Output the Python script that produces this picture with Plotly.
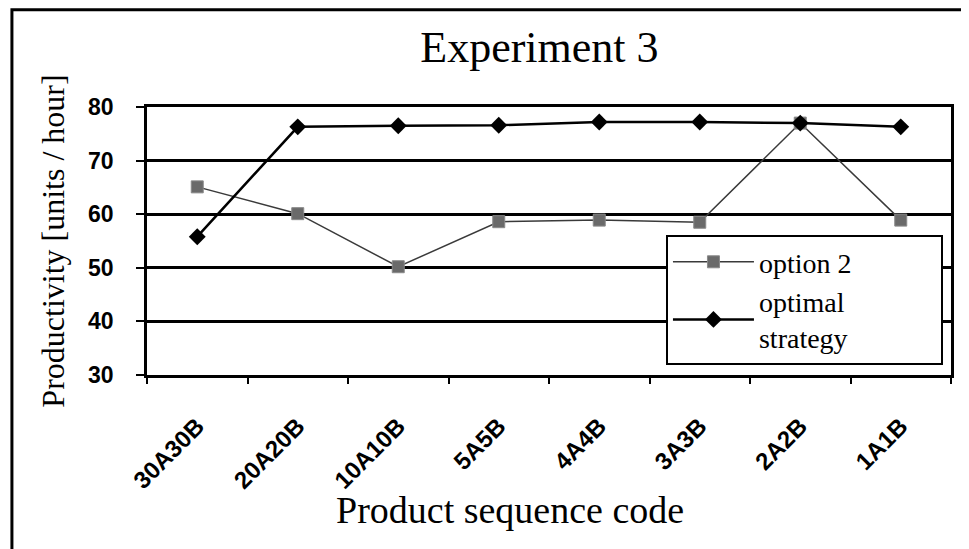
import plotly.graph_objects as go

categories = ["30A30B", "20A20B", "10A10B", "5A5B", "4A4B", "3A3B", "2A2B", "1A1B"]
option2 = [65.1, 60.1, 50.2, 58.6, 58.9, 58.5, 77.0, 58.9]
optimal = [55.8, 76.3, 76.5, 76.6, 77.2, 77.2, 77.0, 76.3]
y_ticks = [30, 40, 50, 60, 70, 80]

serif = "Liberation Serif, Times New Roman, serif"
sans = "Liberation Sans, Arial, sans-serif"
pad = "\u00a0" * 12

fig = go.Figure()
fig.add_trace(go.Scatter(
    x=categories, y=option2, name="option 2" + pad, mode="lines+markers",
    line=dict(color="#3a3a3a", width=1.5),
    marker=dict(symbol="square", size=12, color="#6a6a6a", line=dict(color="#8a8a8a", width=1)),
))
fig.add_trace(go.Scatter(
    x=categories, y=optimal, name="optimal<br>strategy", mode="lines+markers",
    line=dict(color="black", width=2.5),
    marker=dict(symbol="diamond", size=13, color="black"),
))

# page has an 8px body margin, so the figure is 8px smaller than the window
fig.update_layout(
    width=961, height=541,
    margin=dict(l=139, r=18, t=99, b=174),
    paper_bgcolor="white", plot_bgcolor="white",
    title=dict(text="Experiment 3", x=0.553, xanchor="center", y=0.928, yanchor="middle",
               font=dict(family=serif, size=44, color="black")),
    legend=dict(x=0.99, xanchor="right", y=0.037, yanchor="bottom",
                bgcolor="white", bordercolor="black", borderwidth=2,
                font=dict(family=serif, size=28, color="black"),
                tracegroupgap=0, itemwidth=81),
    showlegend=True,
)
fig.update_xaxes(
    type="category", range=[-0.5, len(categories) - 0.5],
    showline=True, linecolor="black", linewidth=2.5, mirror=True,
    ticks="outside", tickson="boundaries", ticklen=6, tickwidth=2, tickcolor="black",
    tickangle=-45, tickfont=dict(family=sans, size=24, color="black", weight="bold"),
    ticklabelstandoff=25,
    showgrid=False,
)
fig.update_yaxes(
    range=[30, 80], tickvals=y_ticks,
    showline=True, linecolor="black", linewidth=2.5, mirror=True,
    ticks="outside", ticklen=8, tickwidth=2, tickcolor="black",
    tickfont=dict(family=sans, size=23, color="black", weight="bold"),
    ticklabelstandoff=18,
    showgrid=True, gridcolor="black", gridwidth=2.5, zeroline=False,
    title=dict(text="Productivity [units / hour]", font=dict(family=serif, size=32, color="black"), standoff=14),
)
fig.add_annotation(text="Product sequence code", xref="paper", yref="paper",
                   x=0.451, y=-0.504, xanchor="center", yanchor="middle", showarrow=False,
                   font=dict(family=serif, size=38, color="black"))
fig.add_shape(type="rect", xref="paper", yref="paper",
              x0=-0.168, x1=1.06, y0=-0.75, y1=1.363,
              line=dict(color="black", width=3), fillcolor="rgba(0,0,0,0)", layer="below")

fig.write_html("out.html")
